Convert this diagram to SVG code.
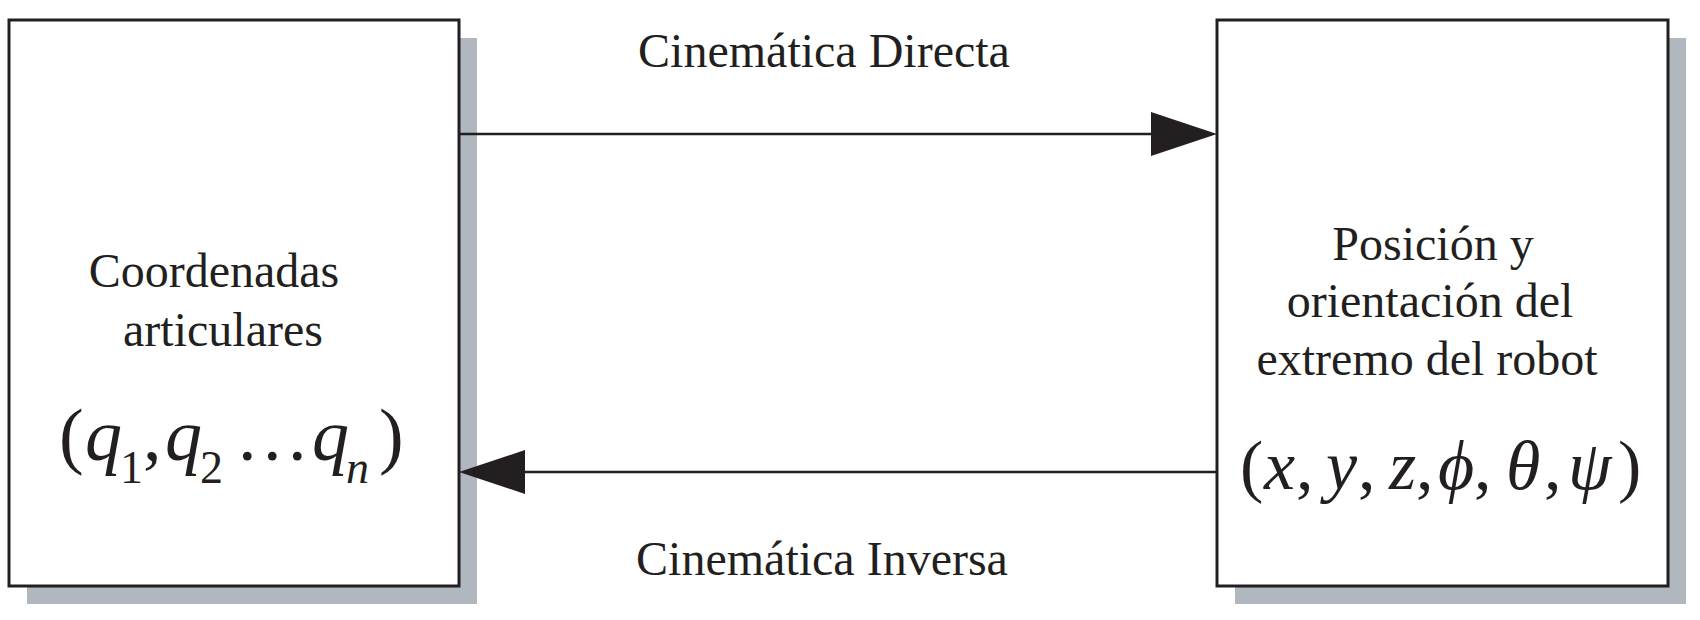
<svg xmlns="http://www.w3.org/2000/svg" width="1700" height="620" viewBox="0 0 1700 620">
<style>
.shadow{fill:#b1b7be}
.box{fill:#fff;stroke:#231f20;stroke-width:3}
.lbl{font-family:"Liberation Serif","Times New Roman",serif;font-size:48px;fill:#231f20}
.math{font-family:"Liberation Serif","Times New Roman",serif;fill:#231f20}
.it{font-style:italic}
.line{stroke:#231f20;stroke-width:2.5;fill:none}
.head{fill:#231f20}
</style>
<rect width="1700" height="620" fill="#fff"/>
<g id="node-joint">
<rect class="shadow" x="27" y="38" width="450" height="566"/>
<rect class="box" x="9" y="20" width="450" height="566"/>
<text class="lbl" x="214" y="287" text-anchor="middle">Coordenadas</text>
<text class="lbl" x="223" y="346" text-anchor="middle">articulares</text>
<text class="math" y="460" font-size="74"><tspan x="59">(</tspan><tspan class="it" x="85">q</tspan><tspan x="120" y="483" font-size="46">1</tspan><tspan x="143" y="460">,</tspan><tspan class="it" x="165">q</tspan><tspan x="200" y="483" font-size="46">2</tspan><tspan x="238" y="460">.</tspan><tspan x="263">.</tspan><tspan x="288">.</tspan><tspan class="it" x="312">q</tspan><tspan class="it" x="346" y="483" font-size="46">n</tspan><tspan x="379" y="460">)</tspan></text>
</g>
<g id="node-pose">
<rect class="shadow" x="1235" y="38" width="451" height="566"/>
<rect class="box" x="1217" y="20" width="451" height="566"/>
<text class="lbl" x="1433" y="260" text-anchor="middle">Posición y</text>
<text class="lbl" x="1430" y="317" text-anchor="middle">orientación del</text>
<text class="lbl" x="1427" y="375" text-anchor="middle">extremo del robot</text>
<text class="math" y="489" font-size="70"><tspan x="1240">(</tspan><tspan class="it" x="1264">x</tspan><tspan x="1296">,</tspan><tspan class="it" x="1326">y</tspan><tspan x="1358">,</tspan><tspan class="it" x="1389">z</tspan><tspan x="1416">,</tspan><tspan class="it" x="1438">ϕ</tspan><tspan x="1474">,</tspan><tspan class="it" x="1506">θ</tspan><tspan x="1544">,</tspan><tspan class="it" x="1568">ψ</tspan><tspan x="1618">)</tspan></text>
</g>
<g id="connectors">
<line class="line" x1="459" y1="134" x2="1160" y2="134"/>
<polygon class="head" points="1217,134 1151,112 1151,156"/>
<text class="lbl" x="824" y="67" text-anchor="middle">Cinemática Directa</text>
<line class="line" x1="1217" y1="472" x2="515" y2="472"/>
<polygon class="head" points="459,472 525,450 525,494"/>
<text class="lbl" x="822" y="575" text-anchor="middle">Cinemática Inversa</text>
</g>
</svg>
